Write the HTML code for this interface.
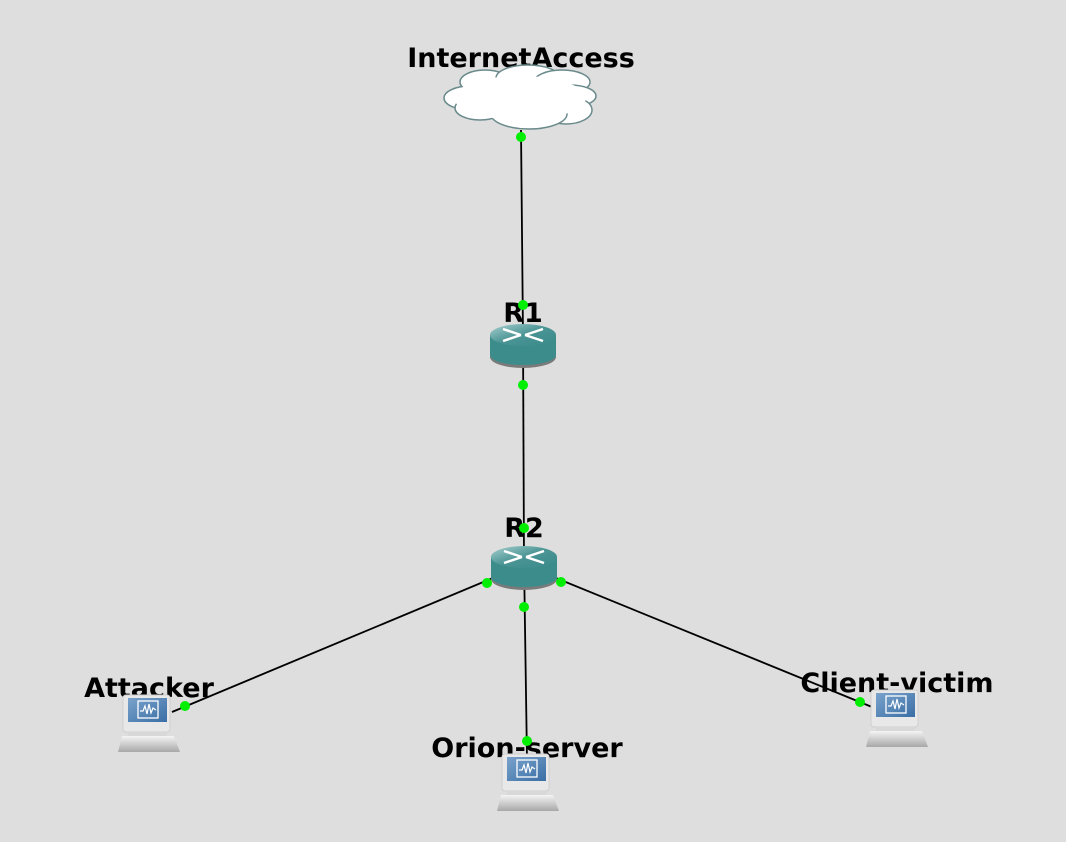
<!DOCTYPE html>
<html><head><meta charset="utf-8"><style>
html,body{margin:0;padding:0;background:#dedede;}
svg{display:block}
text{font-family:"DejaVu Sans","Liberation Sans",sans-serif;font-weight:bold;font-size:27px;fill:#000;text-anchor:middle}
</style></head><body>
<svg width="1066" height="842" viewBox="0 0 1066 842" xmlns="http://www.w3.org/2000/svg">
<defs>
<linearGradient id="rt" x1="0" y1="0" x2="1" y2="1">
<stop offset="0" stop-color="#a9d0d0"/><stop offset="0.5" stop-color="#4a9494"/><stop offset="1" stop-color="#3a8a8a"/>
</linearGradient>
<linearGradient id="base" x1="0" y1="0" x2="0" y2="1">
<stop offset="0" stop-color="#f4f4f4"/><stop offset="1" stop-color="#a8a8a8"/>
</linearGradient>
<linearGradient id="scr" x1="0" y1="0" x2="1" y2="1">
<stop offset="0" stop-color="#7aa3cc"/><stop offset="1" stop-color="#3a6ea5"/>
</linearGradient>
<g id="router">
<ellipse cx="0" cy="22" rx="33" ry="11" fill="#7a7a7a"/>
<rect x="-33" y="0" width="66" height="20" fill="#3d8c8c"/>
<ellipse cx="0" cy="20" rx="33" ry="10" fill="#3d8c8c"/>
<ellipse cx="0" cy="0" rx="33" ry="11" fill="url(#rt)"/>
<g stroke="#fff" stroke-width="2.5" fill="none">
<path d="M-20 -6 L-2 0"/><path d="M20 -6 L2 0"/>
<path d="M-20 6 L-2 0"/><path d="M20 6 L2 0"/>
</g>
</g>
<g id="laptop">
<rect x="-26" y="-3" width="47" height="37" rx="3" fill="#e8e8e8" stroke="#cfcfcf"/>
<rect x="-21" y="0" width="39" height="24" fill="url(#scr)"/>
<rect x="-11" y="3" width="20" height="17" fill="none" stroke="#fff" stroke-width="1.3"/>
<path d="M-9 13 L-6 13 L-4 8 L-2 16 L0 6 L2 15 L4 10 L7 12" fill="none" stroke="#fff" stroke-width="1.2"/>
<rect x="-21" y="34" width="39" height="4" fill="#d8d8d8"/>
<path d="M-27 38 L25 38 L31 54 L-31 54 Z" fill="url(#base)"/>
</g>
</defs>

<text x="521" y="67">InternetAccess</text>
<text x="523" y="322">R1</text>
<text x="524" y="537">R2</text>
<text x="149" y="697">Attacker</text>
<text x="527" y="757">Orion-server</text>
<text x="897" y="692">Client-victim</text>

<g stroke="#000" stroke-width="1.8">
<line x1="521" y1="130" x2="523" y2="335"/>
<line x1="523" y1="335" x2="524" y2="560"/>
<line x1="524" y1="560" x2="527" y2="760"/>
<line x1="524" y1="565" x2="172" y2="712"/>
<line x1="524" y1="565" x2="872" y2="707"/>
</g>

<g fill="#fff" stroke="#6a8a8c" stroke-width="1.5">
<ellipse cx="470" cy="98" rx="26" ry="12"/>
<ellipse cx="485" cy="82" rx="25" ry="12"/>
<ellipse cx="480" cy="108" rx="25" ry="12"/>
<ellipse cx="528" cy="78" rx="32" ry="13"/>
<ellipse cx="562" cy="82" rx="28" ry="12"/>
<ellipse cx="570" cy="96" rx="26" ry="11"/>
<ellipse cx="566" cy="110" rx="26" ry="14"/>
<ellipse cx="529" cy="114" rx="38" ry="15"/>
</g>
<g fill="#fff">
<ellipse cx="520" cy="98" rx="66" ry="22"/>
</g>

<use href="#router" x="523" y="335"/>
<use href="#router" x="524" y="557"/>
<use href="#laptop" x="149" y="698"/>
<use href="#laptop" x="528" y="757"/>
<use href="#laptop" x="897" y="693"/>

<g fill="#00ee00">
<circle cx="521" cy="137" r="5"/>
<circle cx="523" cy="305" r="5"/>
<circle cx="523" cy="385" r="5"/>
<circle cx="524" cy="528" r="5"/>
<circle cx="487" cy="583" r="5"/>
<circle cx="561" cy="582" r="5"/>
<circle cx="524" cy="607" r="5"/>
<circle cx="185" cy="706" r="5"/>
<circle cx="527" cy="741" r="5"/>
<circle cx="860" cy="702" r="5"/>
</g>
</svg>
</body></html>
